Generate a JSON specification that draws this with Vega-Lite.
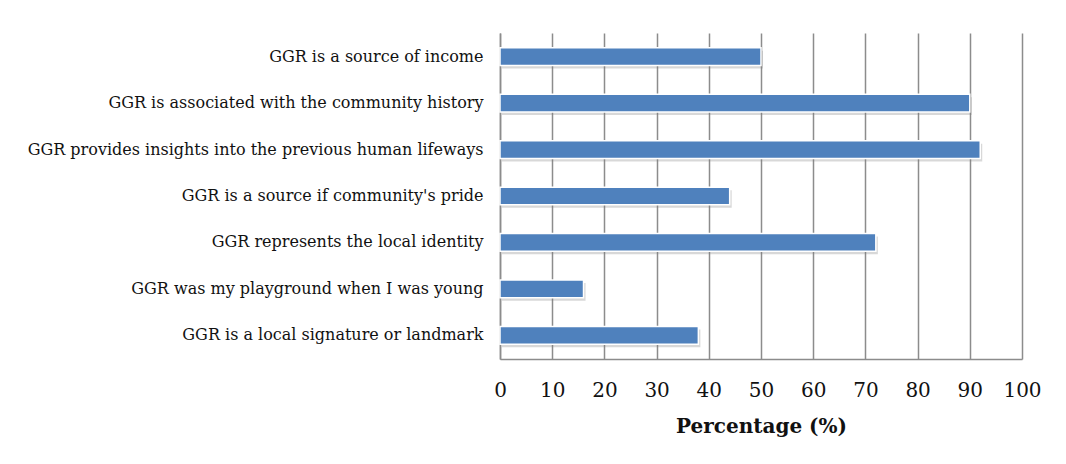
{
  "$schema": "https://vega.github.io/schema/vega-lite/v6.json",
  "width": 522,
  "height": 326,
  "autosize": {"type": "none"},
  "padding": {"left": 500, "top": 33, "right": 44, "bottom": 105},
  "background": "white",
  "config": {
    "view": {"stroke": null},
    "font": "DejaVu Serif"
  },
  "data": {
    "values": [
      {"statement": "GGR is a source of income", "percentage": 50},
      {"statement": "GGR is associated with the community history", "percentage": 90},
      {"statement": "GGR provides insights into the previous human lifeways", "percentage": 92},
      {"statement": "GGR is a source if community's pride", "percentage": 44},
      {"statement": "GGR represents the local identity", "percentage": 72},
      {"statement": "GGR was my playground when I was young", "percentage": 16},
      {"statement": "GGR is a local signature or landmark", "percentage": 38}
    ]
  },
  "encoding": {
    "y": {
      "field": "statement",
      "type": "nominal",
      "sort": null,
      "scale": {"paddingInner": 0.62, "paddingOuter": 0.32},
      "axis": {
        "title": null,
        "ticks": false,
        "labelFont": "DejaVu Serif",
        "labelFontSize": 16,
        "labelColor": "#111111",
        "labelPadding": 17,
        "labelLimit": 600,
        "domainColor": "#8c8c8c",
        "domainWidth": 1.5
      }
    },
    "x": {
      "field": "percentage",
      "type": "quantitative",
      "scale": {"domain": [0, 100], "nice": false},
      "axis": {
        "title": "Percentage (%)",
        "values": [0, 10, 20, 30, 40, 50, 60, 70, 80, 90, 100],
        "ticks": false,
        "grid": true,
        "gridColor": "#8c8c8c",
        "gridWidth": 1.5,
        "domainColor": "#8c8c8c",
        "domainWidth": 1.5,
        "labelFlush": false,
        "labelBound": false,
        "labelOverlap": false,
        "labelFont": "DejaVu Serif",
        "labelFontSize": 20,
        "labelColor": "#111111",
        "labelPadding": 21,
        "titleFont": "DejaVu Serif",
        "titleFontSize": 20,
        "titleFontWeight": "bold",
        "titleColor": "#111111",
        "titlePadding": 16
      }
    }
  },
  "layer": [
    {
      "mark": {"type": "bar", "color": "#7f7f7f", "opacity": 0.3, "xOffset": 2, "yOffset": 3}
    },
    {
      "mark": {"type": "bar", "color": "#4F81BD", "stroke": "white", "strokeWidth": 1.5}
    }
  ]
}
